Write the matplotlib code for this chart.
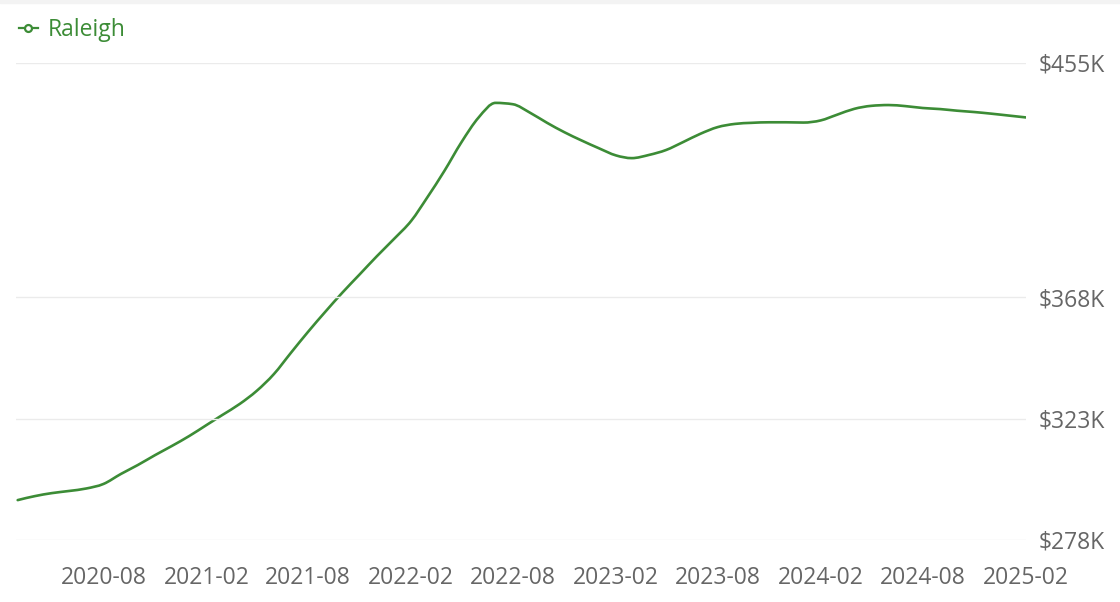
import numpy as np
import pandas as pd
import matplotlib
matplotlib.use("Agg")
import matplotlib.pyplot as plt
import matplotlib.dates as mdates
from matplotlib.lines import Line2D
from matplotlib.path import Path
from matplotlib.patches import PathPatch

plt.rcParams['font.family'] = ['Open Sans', 'DejaVu Sans']

# monthly median price, Raleigh (thousands of $), 2020-03 .. 2025-02
months = pd.date_range("2020-03-01", periods=60, freq="MS")
raleigh = [
    292.8, 294.3, 295.4, 296.2, 297.1, 298.8, 302.5, 305.8, 309.5, 312.9,
    316.6, 320.7, 324.4, 328.5, 333.3, 339.6, 347.4, 355.3, 362.8, 369.8,
    376.6, 383.2, 389.7, 396.5, 405.0, 415.0, 425.5, 434.8, 440.2, 439.7,
    436.5, 432.8, 429.3, 426.3, 423.4, 420.7, 419.7, 420.9, 422.7, 425.7,
    428.7, 431.2, 432.4, 432.8, 433.0, 433.0, 432.9, 433.7, 435.8, 438.0,
    439.1, 439.4, 439.0, 438.3, 437.9, 437.3, 436.8, 436.2, 435.5, 434.8,
]
y_ticks = [278, 323, 368, 455]
x_ticks = ["2020-08", "2021-02", "2021-08", "2022-02", "2022-08",
           "2023-02", "2023-08", "2024-02", "2024-08", "2025-02"]

green = "#3c8c36"
grey = "#666666"


def monotone_path(x, y):
    # smooth curve through the points, same idea as d3 curveMonotoneX
    x = np.asarray(x, float)
    y = np.asarray(y, float)
    h = np.diff(x)
    s = np.diff(y) / h
    t = np.zeros_like(y)
    for i in range(1, len(y) - 1):
        p = (s[i - 1] * h[i] + s[i] * h[i - 1]) / (h[i - 1] + h[i])
        t[i] = (np.sign(s[i - 1]) + np.sign(s[i])) * min(abs(s[i - 1]), abs(s[i]), 0.5 * abs(p))
    t[0] = (3 * s[0] - t[1]) / 2
    t[-1] = (3 * s[-1] - t[-2]) / 2
    verts = [(x[0], y[0])]
    codes = [Path.MOVETO]
    for i in range(len(x) - 1):
        d = h[i] / 3
        verts += [(x[i] + d, y[i] + d * t[i]),
                  (x[i + 1] - d, y[i + 1] - d * t[i + 1]),
                  (x[i + 1], y[i + 1])]
        codes += [Path.CURVE4] * 3
    return Path(verts, codes)


fig = plt.figure(figsize=(11.2, 6.02), dpi=100)
fig.patches.append(plt.Rectangle((0, 0.995), 1, 0.005, transform=fig.transFigure,
                                 color="#f3f3f3", zorder=0))
ax = fig.add_axes([16 / 1120, 1 - 540 / 602, 1010 / 1120, 477 / 602])

xs = mdates.date2num(months)
ax.add_patch(PathPatch(monotone_path(xs, raleigh), facecolor="none",
                       edgecolor=green, linewidth=1.9, capstyle="round"))

ax.set_ylim(278, 455)
ax.set_xlim(months[0] - pd.Timedelta(days=3), months[-1])

ax.set_yticks(y_ticks)
ax.set_yticklabels([f"${v}K" for v in y_ticks])
ax.yaxis.tick_right()
ax.set_xticks(pd.to_datetime(x_ticks))
ax.set_xticklabels(x_ticks)

ax.tick_params(axis="y", length=0, pad=9, labelsize=16.5, labelcolor=grey)
ax.tick_params(axis="x", length=0, pad=19, labelsize=16.5, labelcolor=grey)

ax.grid(axis="y", color="#ebebeb", linewidth=1)
ax.grid(axis="x", visible=False)
for s in ax.spines.values():
    s.set_visible(False)

handle = Line2D([], [], color=green, linewidth=1.6, marker="o", markersize=5,
                markerfacecolor="white", markeredgecolor=green, markeredgewidth=1.6)
leg = fig.legend([handle], ["Raleigh"], loc="upper left", bbox_to_anchor=(0.009, 0.985),
                 frameon=False, fontsize=16.5, handlelength=0.8, handletextpad=0.45,
                 borderaxespad=0)
for t in leg.get_texts():
    t.set_color(green)

fig.savefig("out.png", dpi=100)
